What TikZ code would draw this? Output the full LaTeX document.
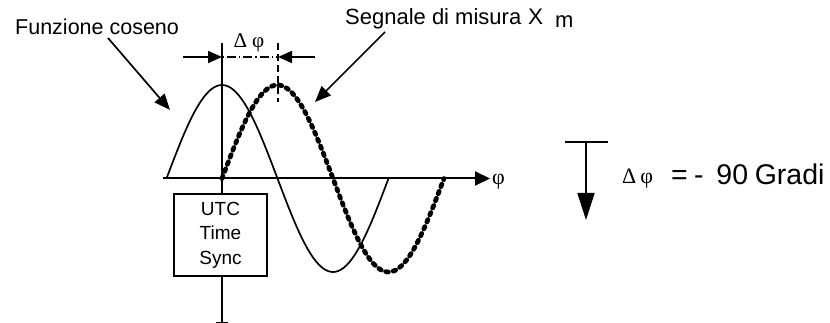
\documentclass[tikz,border=0pt]{standalone}
\usepackage{fontspec}
\setmainfont{Liberation Sans}
\newfontfamily\grk{Liberation Serif}
\usetikzlibrary{arrows.meta}
\begin{document}
\begin{tikzpicture}[x=1pt,y=-1pt,
  ln/.style={line width=1.7pt},
  dimtip/.style={-{Triangle[length=14pt,width=12pt]}},
  lbl/.style={inner sep=0pt,anchor=base west},
  dotcurve/.style={line width=4.8pt,dash pattern=on 2.6pt off 5pt,line cap=round},
  sync/.style={draw,line width=1.7pt,fill=white,minimum width=93pt,minimum height=82pt,inner sep=0pt}
]
\useasboundingbox (0,0) rectangle (830,323);
% coordinates
\coordinate (axL) at (163,178.5);
\coordinate (axR) at (490,178.5);
\coordinate (vT) at (222,43);
\coordinate (vB) at (222,322);
\coordinate (tkL) at (216,322);
\coordinate (tkR) at (228,322);
\coordinate (dL) at (183,57);
\coordinate (d0) at (222,57);
\coordinate (d1) at (278,57);
\coordinate (dR) at (315,57);
\coordinate (sT) at (278,43);
\coordinate (sB) at (278,102);
\coordinate (fS) at (108,38);
\coordinate (fE) at (170,110);
\coordinate (gS) at (385,32);
\coordinate (gE) at (315,102);
\coordinate (bL) at (565,142);
\coordinate (bR) at (608,142);
\coordinate (bM) at (586,142);
\coordinate (bE) at (586,220);
% axes
\draw[ln] (vT) -- (vB);
\draw[line width=1pt] (tkL) -- (tkR);
\draw[line width=2pt,-{Triangle[length=15pt,width=14pt]}] (axL) -- (axR);
\node[lbl,font=\grk\fontsize{22}{22}\selectfont] (phi) at (492,185) {φ};
% curves
\draw[ln] plot[domain=-90:270,samples=90,smooth] ({222+(\x/90)*55.5},{178.5-93.5*cos(\x)});
\draw[dotcurve] plot[domain=0:360,samples=90,smooth] ({222+(\x/90)*55.5},{178.5-93.5*sin(\x)});
% box
\node[sync] (utc) at (220.5,235) {\fontsize{19}{25}\selectfont\setlength\tabcolsep{0pt}\begin{tabular}{c}UTC\\Time\\Sync\end{tabular}};
% dimension
\draw[ln,dimtip] (dL) -- (d0);
\draw[ln,dimtip] (dR) -- (d1);
\draw[line width=1.3pt,dash pattern=on 1.5pt off 3pt on 9pt off 3pt] (d0) -- (d1);
\draw[line width=1.3pt,dash pattern=on 7pt off 4pt] (sT) -- (sB);
\node[lbl,font=\grk\fontsize{21}{21}\selectfont] (dphi) at (233.5,48) {Δ\kern5ptφ};
% labels
\node[lbl,font=\fontsize{21.5}{22}\selectfont] (fz) at (15,35) {Funzione coseno};
\node[lbl,font=\fontsize{22}{22}\selectfont] (sg) at (345,25) {Segnale di misura};
\node[lbl,font=\fontsize{22.5}{23}\selectfont] (xx) at (528,25) {X};
\node[lbl,font=\fontsize{22}{23}\selectfont] (mm) at (555,28) {m};
\draw[ln,-{Triangle[length=16pt,width=13pt]}] (fS) -- (fE);
\draw[ln,-{Triangle[length=16pt,width=13pt]}] (gS) -- (gE);
% right
\draw[ln] (bL) -- (bR);
\draw[ln,-{Triangle[length=27pt,width=17pt]}] (bM) -- (bE);
\node[lbl,font=\grk\fontsize{22}{22}\selectfont] (rphi) at (622,184) {Δ\kern4ptφ};
\node[lbl,font=\fontsize{28.5}{28.5}\selectfont] (eq) at (671,185) {=\kern6.4pt-\kern12.7pt90\kern6.7pt Gradi};
\end{tikzpicture}
\end{document}
